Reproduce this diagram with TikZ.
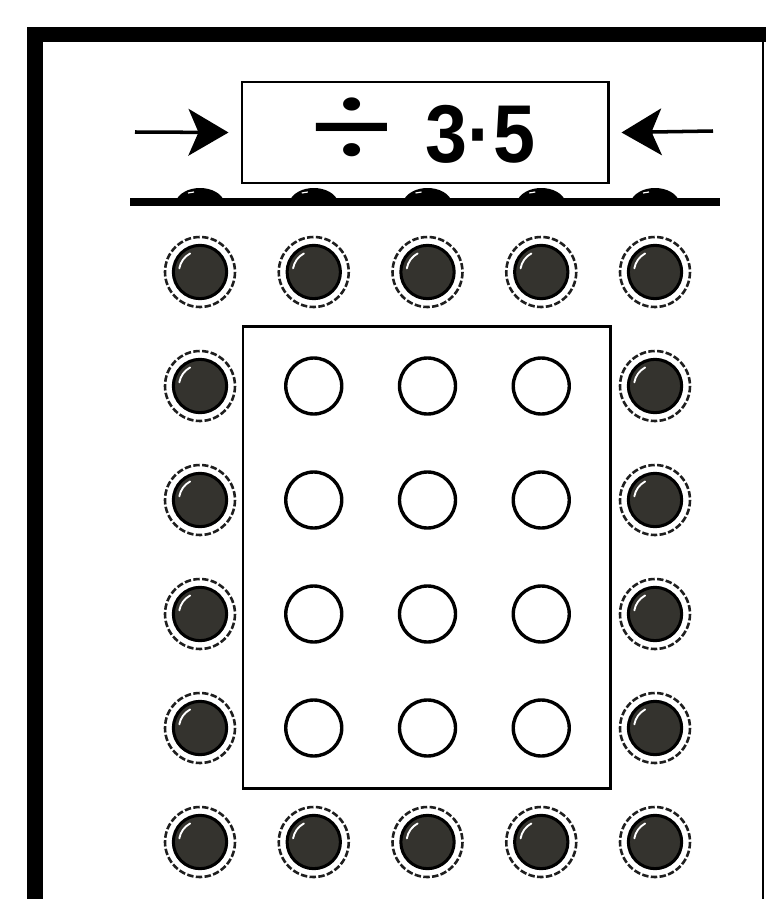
\documentclass[tikz,border=0pt]{standalone}
\usepackage{fontspec}
\setmainfont{Liberation Sans}
\newfontfamily\divfont{Poppins}
\usetikzlibrary{arrows.meta}
\definecolor{balldark}{HTML}{34332E}
\definecolor{ringgray}{HTML}{1E1E1E}
\begin{document}
\begin{tikzpicture}[x=0.03cm,y=-0.03cm,
  frameline/.style={line width=2.55pt, draw=black},
  ball/.style={circle, minimum size=1.6cm, inner sep=0pt, fill=balldark, draw=black, line width=2.6pt},
  ballring/.style={draw=ringgray, line width=2.2pt, dash pattern=on 5.5pt off 2pt},
  hole/.style={circle, minimum size=1.68cm, inner sep=0pt, draw=black, line width=2.9pt, fill=white},
  pointer/.style={line width=3pt, -{Stealth[length=1.2cm, width=1.4cm, inset=0.3cm]}},
  bigtext/.style={inner sep=0pt, font=\fontsize{70pt}{70pt}\selectfont\bfseries}
]
\useasboundingbox (0,0) rectangle (766,899);
\fill[white] (0,0) rectangle (766,899);
% outer frame
\fill[black] (27,27) rectangle (766,42);
\fill[black] (27,27) rectangle (43,899);
\draw[line width=1.2pt] (763,42) -- (763,899);

% label box
\node[frameline, minimum width=10.98cm, minimum height=3.03cm, inner sep=0pt] (box) at (425,132.5) {};
\node[inner sep=0pt, font=\fontsize{70pt}{70pt}\divfont] (div) at (351,132) {\scalebox{1.7}[1.3]{÷}};
\node[bigtext, anchor=base] (num) at (480.5,162) {\scalebox{0.92}[1]{3·5}};

% arrows
\coordinate (lt) at (135,132);
\coordinate (rt) at (713,131);
\draw[pointer] (lt) -- ([xshift=-0.36cm]box.west);
\draw[pointer] (rt) -- ([xshift=0.36cm]box.east);

% base line with domes
\coordinate (bl) at (130,202);
\coordinate (br) at (720,202);
\draw[line width=6.8pt] (bl) -- (br);
\foreach \i in {0,...,4}{
  \pgfmathsetmacro{\cx}{200+113.75*\i}
  \fill[black] (\cx-25,203) .. controls (\cx-19,183) and (\cx+19,183) .. (\cx+25,203) -- cycle;
  \draw[white, line width=1pt] (\cx-12,193) -- (\cx-6,192);
}

% inner rectangle
\node[frameline, minimum width=11.01cm, minimum height=13.83cm, inner sep=0pt] (grid) at (426.5,557.5) {};

% balls
\foreach \i in {0,...,4}{
  \foreach \j in {0,...,5}{
    \pgfmathsetmacro{\cx}{200+113.75*\i}
    \pgfmathsetmacro{\cy}{272+114*\j}
    \pgfmathtruncatemacro{\edge}{(\i==0)||(\i==4)||(\j==0)||(\j==5)}
    \ifnum\edge=1
      \draw[ballring] (\cx,\cy) circle[radius=35];
      \node[ball] (b-\i-\j) at (\cx,\cy) {};
      \draw[white, line width=1.6pt, line cap=round] (\cx,\cy) ++(-170:21) arc[start angle=-170, end angle=-118, radius=21];
    \else
      \node[hole] (h-\i-\j) at (\cx,\cy) {};
    \fi
  }
}
\end{tikzpicture}
\end{document}
